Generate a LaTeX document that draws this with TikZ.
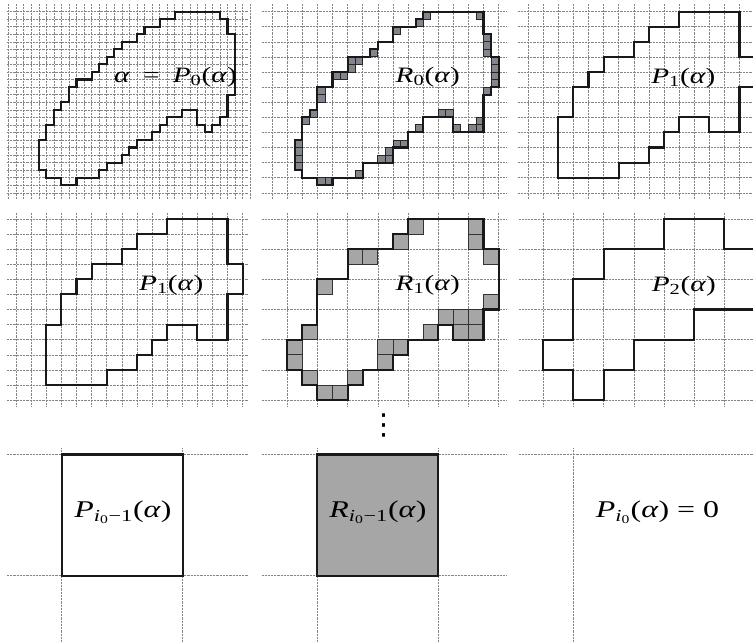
\documentclass[tikz,border=0pt]{standalone}
\usepackage{fontspec}
\setmainfont{Liberation Serif}
\newfontfamily\djv{DejaVu Sans}
\newcommand\itx[1]{\textit{#1}}
\newcommand\wide[1]{\scalebox{1.33}[1]{#1}}
\begin{document}
\begin{tikzpicture}[x=1pt,y=-1pt,
  gridln/.style={draw=black!48, densely dotted, line width=0.45pt},
  outl/.style={draw=black!90, line width=2.1pt, line join=miter},
  cellA/.style={fill={rgb,255:red,130;green,134;blue,140}, draw=black!85, line width=0.8pt},
  cellB/.style={fill={rgb,255:red,166;green,166;blue,166}, draw=black!80, line width=0.8pt},
  lbl/.style={font=\fontsize{22}{26}\selectfont, inner sep=0pt, anchor=base},
  lblb/.style={font=\fontsize{24}{28}\selectfont, inner sep=0pt, anchor=base},
]
\useasboundingbox (0,0) rectangle (753,642);
\clip (0,0) rectangle (753,642);

% ---------- grids, row 1 ----------
\foreach \k in {-5,...,27} \draw[gridln] ({46.3+7.55*\k},4) -- ({46.3+7.55*\k},199);
\foreach \k in {-2,...,22} \draw[gridln] (6.7,{177.7-7.55*\k}) -- (248,{177.7-7.55*\k});
\foreach \k in {-2,...,13} \draw[gridln] ({302.3+15.1*\k},4) -- ({302.3+15.1*\k},199);
\foreach \k in {-1,...,11} \draw[gridln] (262,{177.7-15.1*\k}) -- (506,{177.7-15.1*\k});
\foreach \k in {-2,...,12} \draw[gridln] ({558.3+15.1*\k},4) -- ({558.3+15.1*\k},199);
\foreach \k in {-1,...,11} \draw[gridln] (518,{177.7-15.1*\k}) -- (753,{177.7-15.1*\k});
% ---------- grids, row 2 ----------
\foreach \k in {-2,...,13} \draw[gridln] ({46.3+15.1*\k},212.7) -- ({46.3+15.1*\k},406.7);
\foreach \k in {-1,...,11} \draw[gridln] (6.7,{385-15.1*\k}) -- (248,{385-15.1*\k});
\foreach \k in {-1,1,...,13} \draw[gridln] ({302.3+15.1*\k},212.7) -- ({302.3+15.1*\k},406.7);
\foreach \k in {-1,1,...,11} \draw[gridln] (262,{385-15.1*\k}) -- (506,{385-15.1*\k});
\foreach \k in {-1,1,...,11} \draw[gridln] ({558.3+15.1*\k},212.7) -- ({558.3+15.1*\k},406.7);
\foreach \k in {-1,1,...,11} \draw[gridln] (519,{385-15.1*\k}) -- (753,{385-15.1*\k});
% ---------- grids, row 3 ----------
\foreach \y in {454.5,575.7} {
  \draw[gridln] (6.7,\y) -- (248,\y);
  \draw[gridln] (262,\y) -- (506,\y);
}
\draw[gridln] (519,454.5) -- (753,454.5);
\foreach \x in {61.6,182.6,317.4,438.4,573.4} \draw[gridln] (\x,448.3) -- (\x,642);

% ---------- row 1, panel 1: P0 ----------
\begin{scope}[shift={(46.3pt,-177.7pt)},x=7.55pt,y=7.55pt]
\draw[outl] (17,22) -- (23,22) -- (23,21) -- (24,21) -- (24,19) -- (25,19) -- (25,11) -- (24,11)
 -- (24,8) -- (23,8) -- (23,7) -- (22,7) -- (22,6) -- (21,6) -- (21,7) -- (20,7) -- (20,9)
 -- (18,9) -- (18,8) -- (16,8) -- (16,7) -- (15,7) -- (15,6) -- (14,6) -- (14,5) -- (12,5)
 -- (12,4) -- (11,4) -- (11,3) -- (10,3) -- (10,2) -- (8,2) -- (8,1) -- (7,1) -- (7,0)
 -- (4,0) -- (4,-1) -- (2,-1) -- (2,0) -- (0,0) -- (0,1) -- (-1,1) -- (-1,5) -- (0,5)
 -- (0,7) -- (1,7) -- (1,9) -- (2,9) -- (2,10) -- (3,10) -- (3,12) -- (4,12) -- (4,13)
 -- (6,13) -- (6,14) -- (7,14) -- (7,15) -- (8,15) -- (8,16) -- (9,16) -- (9,17) -- (10,17)
 -- (10,18) -- (12,18) -- (12,19) -- (13,19) -- (13,20) -- (15,20) -- (15,21) -- (17,21) -- cycle;
\end{scope}

% ---------- row 1, panel 2: R0 ----------
\begin{scope}[shift={(302.3pt,-177.7pt)},x=7.55pt,y=7.55pt]
\foreach \u/\v in {16/21,23/21,15/20,12/19,9/16,6/15,7/15,6/14,4/13,5/13,2/11,2/10,1/8,0/7,
  -1/1,-1/2,-1/3,-1/4,2/-1,3/-1,7/0,10/2,11/2,11/3,12/4,13/4,15/6,18/8,19/8,20/6,22/6,23/6,23/7,
  24/11,25/12,25/13,25/14,25/15,24/16,24/17,24/18}
  \draw[cellA] (\u,\v) rectangle ++(1,1);
\draw[outl] (16,22) -- (24,22) -- (24,19) -- (25,19) -- (25,16) -- (26,16) -- (26,12) -- (25,12)
 -- (25,11) -- (24,11) -- (24,6) -- (20,6) -- (20,8) -- (16,8) -- (16,6) -- (14,6) -- (14,4)
 -- (12,4) -- (12,2) -- (8,2) -- (8,0) -- (4,0) -- (4,-1) -- (2,-1) -- (2,0) -- (0,0) -- (0,1)
 -- (-1,1) -- (-1,5) -- (0,5) -- (0,8) -- (1,8) -- (1,9) -- (2,9) -- (2,12) -- (4,12) -- (4,14)
 -- (6,14) -- (6,16) -- (9,16) -- (9,17) -- (10,17) -- (10,18) -- (12,18) -- (12,20) -- (15,20)
 -- (15,21) -- (16,21) -- cycle;
\end{scope}

% ---------- P1 (row 1 panel 3 and row 2 panel 1) ----------
\foreach \ox/\oy in {558.3/177.7, 46.3/385} {
\begin{scope}[shift={(\ox pt,-\oy pt)},x=15.1pt,y=15.1pt]
\draw[outl] (8,11) -- (12,11) -- (12,8) -- (13,8) -- (13,6) -- (12,6) -- (12,3) -- (10,3) -- (10,4)
 -- (8,4) -- (8,3) -- (7,3) -- (7,2) -- (6,2) -- (6,1) -- (4,1) -- (4,0) -- (0,0) -- (0,4) -- (1,4)
 -- (1,6) -- (2,6) -- (2,7) -- (3,7) -- (3,8) -- (5,8) -- (5,9) -- (6,9) -- (6,10) -- (8,10) -- cycle;
\end{scope}
}

% ---------- row 2, panel 2: R1 ----------
\begin{scope}[shift={(302.3pt,-385pt)},x=15.1pt,y=15.1pt]
\foreach \u/\v in {7/10,11/10,6/9,11/9,3/8,4/8,12/8,1/6,12/5,9/4,10/4,11/4,0/3,8/3,10/3,11/3,
  -1/2,5/2,6/2,-1/1,5/1,0/0,3/0,1/-1,2/-1}
  \draw[cellB] (\u,\v) rectangle ++(1,1);
\draw[outl] (7,11) -- (12,11) -- (12,9) -- (13,9) -- (13,5) -- (12,5) -- (12,3) -- (10,3) -- (10,4)
 -- (9,4) -- (9,3) -- (7,3) -- (7,2) -- (6,2) -- (6,1) -- (4,1) -- (4,0) -- (3,0) -- (3,-1) -- (1,-1)
 -- (1,0) -- (0,0) -- (0,1) -- (-1,1) -- (-1,3) -- (0,3) -- (0,4) -- (1,4) -- (1,7) -- (3,7) -- (3,9)
 -- (6,9) -- (6,10) -- (7,10) -- cycle;
\end{scope}

% ---------- row 2, panel 3: P2 ----------
\begin{scope}[shift={(558.3pt,-385pt)},x=15.1pt,y=15.1pt]
\draw[outl] (7,11) -- (11,11) -- (11,9) -- (13,9) -- (13,5) -- (9,5) -- (9,3) -- (5,3) -- (5,1)
 -- (3,1) -- (3,-1) -- (1,-1) -- (1,1) -- (-1,1) -- (-1,3) -- (1,3) -- (1,7) -- (3,7) -- (3,9)
 -- (7,9) -- cycle;
\end{scope}

% ---------- row 3 ----------
\draw[outl] (61.6,454.5) rectangle (182.6,575.7);
\draw[outl, fill={rgb,255:red,166;green,166;blue,166}] (317.4,454.5) rectangle (438.4,575.7);

% ---------- labels ----------
\node[lbl] (l1) at (175.5,82.7) {\wide{\itx{α}\hspace{0.2em} = \hspace{0.2em}\itx{P}\textsubscript{0}(\itx{α})}};
\node[lbl] (l2) at (427.8,82.7) {\wide{\itx{R}\textsubscript{0}(\itx{α})}};
\node[lbl] (l3) at (683.3,83.3) {\wide{\itx{P}\textsubscript{1}(\itx{α})}};
\node[lbl] (l4) at (171.2,290.7) {\wide{\itx{P}\textsubscript{1}(\itx{α})}};
\node[lbl] (l5) at (427.8,290) {\wide{\itx{R}\textsubscript{1}(\itx{α})}};
\node[lbl] (l6) at (683.8,291.7) {\wide{\itx{P}\textsubscript{2}(\itx{α})}};
\node[lblb] (l7) at (123,517.3) {\wide{\itx{P}\textsubscript{\itx{i}\textsubscript{0}−1}(\itx{α})}};
\node[lblb] (l8) at (378,517.3) {\wide{\itx{R}\textsubscript{\itx{i}\textsubscript{0}−1}(\itx{α})}};
\node[lblb] (l9) at (657.5,517.3) {\wide{\itx{P}\textsubscript{\itx{i}\textsubscript{0}}(\itx{α}) = 0}};
\node[inner sep=0pt] (vd) at (384.3,425) {\djv\fontsize{29}{29}\selectfont ⋮};
\end{tikzpicture}
\end{document}
